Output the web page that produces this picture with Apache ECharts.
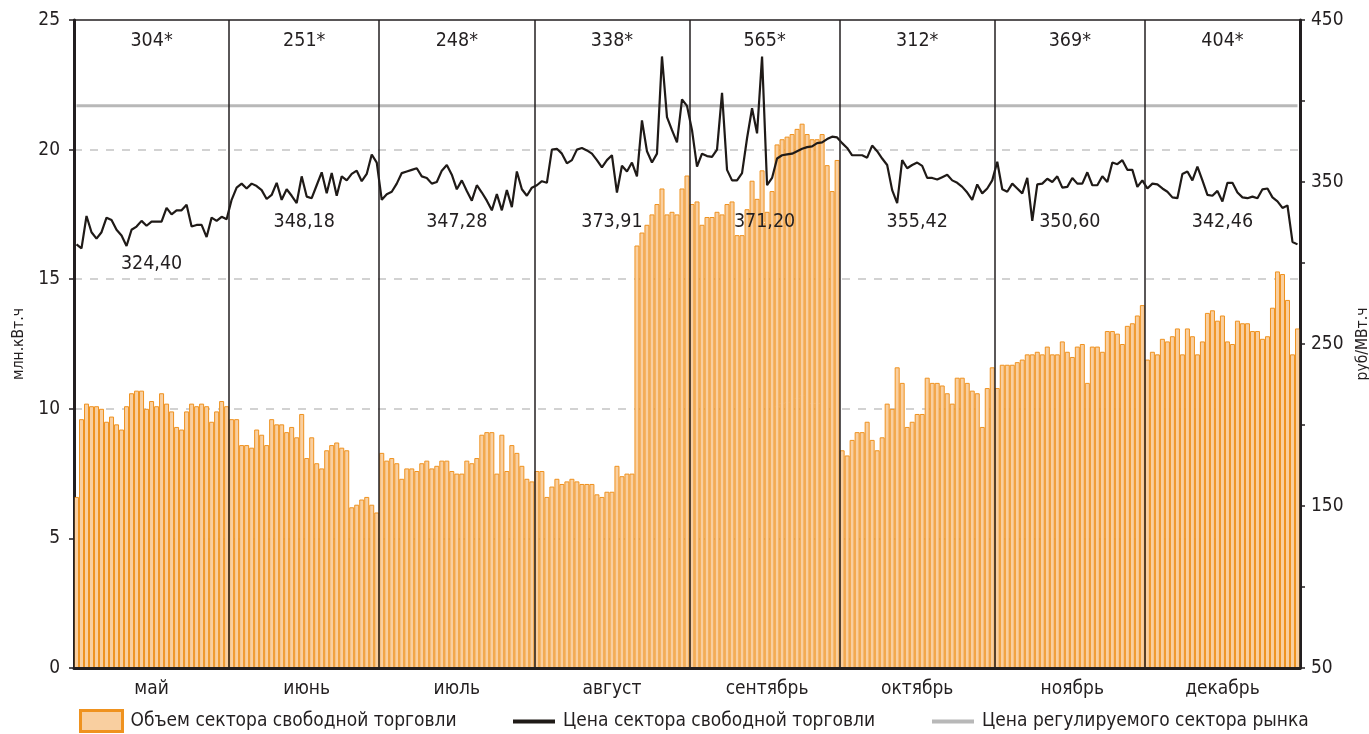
<!DOCTYPE html>
<html lang="ru">
<head>
<meta charset="utf-8">
<title>Сектор свободной торговли</title>
<script src="https://cdn.jsdelivr.net/npm/echarts@6/dist/echarts.min.js"></script>
<style>
  html, body { margin: 0; padding: 0; background: #fff; }
  #chart { width: 1369px; height: 734px; }
</style>
</head>
<body>
<div id="chart"></div>
<script>
// месяцы и число дней в них
const months = ['май', 'июнь', 'июль', 'август', 'сентябрь', 'октябрь', 'ноябрь', 'декабрь'];
const monthDays = [31, 30, 31, 31, 30, 31, 30, 31];

// подписи над месяцами
const monthNotes = ['304*', '251*', '248*', '338*', '565*', '312*', '369*', '404*'];
// средняя цена за месяц, руб/МВт.ч
const avgPrice = [324.40, 348.18, 347.28, 373.91, 371.20, 355.42, 350.60, 342.46];

// объем сектора свободной торговли по дням, млн.кВт.ч
const volume = [
  // май
  6.6, 9.6, 10.2, 10.1, 10.1, 10.0, 9.5, 9.7, 9.4, 9.2, 10.1, 10.6, 10.7, 10.7, 10.0, 10.3,
  10.1, 10.6, 10.2, 9.9, 9.3, 9.2, 9.9, 10.2, 10.1, 10.2, 10.1, 9.5, 9.9, 10.3, 10.1,
  // июнь
  9.6, 9.6, 8.6, 8.6, 8.5, 9.2, 9.0, 8.6, 9.6, 9.4, 9.4, 9.1, 9.3, 8.9, 9.8,
  8.1, 8.9, 7.9, 7.7, 8.4, 8.6, 8.7, 8.5, 8.4, 6.2, 6.3, 6.5, 6.6, 6.3, 6.0,
  // июль
  8.3, 8.0, 8.1, 7.9, 7.3, 7.7, 7.7, 7.6, 7.9, 8.0, 7.7, 7.8, 8.0, 8.0, 7.6, 7.5,
  7.5, 8.0, 7.9, 8.1, 9.0, 9.1, 9.1, 7.5, 9.0, 7.6, 8.6, 8.3, 7.8, 7.3, 7.2,
  // август
  7.6, 7.6, 6.6, 7.0, 7.3, 7.1, 7.2, 7.3, 7.2, 7.1, 7.1, 7.1, 6.7, 6.6, 6.8, 6.8,
  7.8, 7.4, 7.5, 7.5, 16.3, 16.8, 17.1, 17.5, 17.9, 18.5, 17.5, 17.6, 17.5, 18.5, 19.0,
  // сентябрь
  17.9, 18.0, 17.1, 17.4, 17.4, 17.6, 17.5, 17.9, 18.0, 16.7, 16.7, 17.7, 18.8, 18.1, 19.2,
  17.6, 18.4, 20.2, 20.4, 20.5, 20.6, 20.8, 21.0, 20.6, 20.4, 20.4, 20.6, 19.4, 18.4, 19.6,
  // октябрь
  8.4, 8.2, 8.8, 9.1, 9.1, 9.5, 8.8, 8.4, 8.9, 10.2, 10.0, 11.6, 11.0, 9.3, 9.5, 9.8,
  9.8, 11.2, 11.0, 11.0, 10.9, 10.6, 10.2, 11.2, 11.2, 11.0, 10.7, 10.6, 9.3, 10.8, 11.6,
  // ноябрь
  10.8, 11.7, 11.7, 11.7, 11.8, 11.9, 12.1, 12.1, 12.2, 12.1, 12.4, 12.1, 12.1, 12.6, 12.2,
  12.0, 12.4, 12.5, 11.0, 12.4, 12.4, 12.2, 13.0, 13.0, 12.9, 12.5, 13.2, 13.3, 13.6, 14.0,
  // декабрь
  11.9, 12.2, 12.1, 12.7, 12.6, 12.8, 13.1, 12.1, 13.1, 12.8, 12.1, 12.6, 13.7, 13.8, 13.4, 13.6,
  12.6, 12.5, 13.4, 13.3, 13.3, 13.0, 13.0, 12.7, 12.8, 13.9, 15.3, 15.2, 14.2, 12.1, 13.1
];

// цена сектора свободной торговли по дням, руб/МВт.ч
const price = [
  // май
  311.5, 309, 329, 319, 315, 319, 328, 326.5, 320.5, 317, 310.5, 320.5, 322.5, 326, 323, 325.5,
  325.5, 325.5, 334, 330, 332.5, 332.5, 336, 322.5, 323.5, 323.5, 316, 328, 326, 328.5, 327,
  // июнь
  339, 346.5, 349, 346, 349, 347.5, 345, 339.5, 342, 349.5, 339, 345.5, 341.5, 337, 353.5,
  341, 340, 348, 356, 343, 355.5, 341.5, 353.5, 351, 355, 357, 350.5, 355, 367, 362,
  // июль
  339, 342.5, 344, 349, 355.5, 356.5, 357.5, 358.5, 353.5, 352.5, 349, 350, 357, 360.5, 354.5, 345.5,
  351, 344.5, 338.5, 348, 343.5, 338.5, 332.5, 342.5, 332.5, 345, 334.5, 356.5, 345.5, 341.5, 346.5,
  // август
  348, 350.5, 349.5, 370, 370.5, 367.5, 361.5, 363.5, 370, 371, 369.5, 367.5, 363.5, 359, 363.5, 366.5,
  343.5, 360, 356.5, 362, 353.5, 388, 369, 362, 367.5, 427.5, 390, 382, 374.5, 401, 397,
  // сентябрь
  382, 359.5, 367.5, 366, 365.5, 370, 405, 357.5, 351, 351, 355.5, 377, 395.5, 380, 427.5,
  348, 352.5, 364.5, 366.5, 367, 367.5, 369, 370.5, 371.5, 372, 374, 374.5, 376.5, 378, 377.5,
  // октябрь
  374, 371, 366.5, 366.5, 366.5, 365, 372.5, 369, 364.5, 360.5, 345, 337, 363.5, 358.5, 360.5, 362,
  360, 352.5, 352.5, 351.5, 353, 354.5, 351, 349.5, 347, 343.5, 339, 348.5, 343, 346, 351,
  // ноябрь
  362.5, 345.5, 344, 349, 346, 343, 352.5, 326, 348.5, 349, 352, 350, 353.5, 346.5, 347,
  352.5, 349, 349, 356, 348, 348, 353.5, 350, 362, 361, 363.5, 357.5, 357.5, 347, 351,
  // декабрь
  346, 349, 348.5, 346, 344, 340.5, 340, 355, 356.5, 351, 359.5, 351, 342, 341.5, 344.5, 338,
  349.5, 349.5, 343.5, 340.5, 340, 341, 340, 345.5, 346, 340.5, 338, 334, 335.5, 313, 311.5
];

// цена регулируемого сектора: начало и конец периода
const regulated = [397, 397];

const FONT = "'DejaVu Sans Condensed', 'DejaVu Sans', sans-serif";
const INK = '#231f20';
const LINE_ICON = 'path://M0,0H40V4H0Z';

// дни как категории, начала и середины месяцев
const days = [];
const monthStart = [];
const midDay = {};
months.forEach((m, k) => {
  monthStart.push(days.length);
  midDay[days.length + Math.floor(monthDays[k] / 2)] = m;
  for (let d = 1; d <= monthDays[k]; d++) days.push(d + ' ' + m);
});
const isMonthStart = i => monthStart.indexOf(i) !== -1;

const chart = echarts.init(document.getElementById('chart'));

const legendBase = {
  top: 709, padding: 0,
  itemWidth: 42, itemHeight: 21,
  textStyle: { fontFamily: FONT, fontSize: 19, color: INK, padding: [0, 0, 0, 3] }
};

const noteLabel = {
  show: true, position: 'inside', opacity: 1,
  fontFamily: FONT, fontSize: 19.5, color: INK
};

const option = {
  animation: false,
  textStyle: { fontFamily: FONT, color: INK },
  grid: {
    left: 74, right: 69, top: 20, bottom: 66,
    outerBoundsMode: 'none', containLabel: false,
    show: true, borderColor: INK, borderWidth: 1.5
  },
  legend: [
    Object.assign({}, legendBase, {
      left: 79,
      data: [{ name: 'Объем сектора свободной торговли', icon: 'rect', itemStyle: { borderWidth: 3 } }]
    }),
    Object.assign({}, legendBase, {
      left: 513, top: 712,
      data: [{ name: 'Цена сектора свободной торговли', icon: LINE_ICON }]
    }),
    Object.assign({}, legendBase, {
      left: 932, top: 712,
      data: [{ name: 'Цена регулируемого сектора рынка', icon: LINE_ICON }]
    })
  ],
  xAxis: [
    {
      type: 'category',
      data: days,
      z: 5,
      axisLine: { lineStyle: { color: INK, width: 3 } },
      axisTick: { interval: isMonthStart, length: 8, lineStyle: { color: INK, width: 1.5 } },
      axisLabel: {
        interval: i => midDay[i] !== undefined,
        formatter: v => v.split(' ')[1],
        fontFamily: FONT, fontSize: 19, color: INK, margin: 12
      },
      splitLine: { show: true, interval: isMonthStart, lineStyle: { color: INK, width: 1.5 } }
    },
    { type: 'value', min: 0, max: days.length, show: false }
  ],
  yAxis: [
    {
      type: 'value', min: 0, max: 25, interval: 5,
      name: 'млн.кВт.ч', nameLocation: 'middle', nameRotate: 90, nameGap: 47,
      nameTextStyle: { fontFamily: FONT, fontSize: 15.5, color: INK },
      axisLine: { show: true, lineStyle: { color: INK, width: 3 } },
      axisTick: { show: true, length: 5, lineStyle: { color: INK, width: 1.5 } },
      axisLabel: { fontFamily: FONT, fontSize: 19, color: INK, margin: 14 },
      splitLine: {
        show: true, showMinLine: false, showMaxLine: false,
        lineStyle: { color: '#c4c4c4', width: 1.5, type: [8, 8] }
      }
    },
    {
      type: 'value', min: 50, max: 450, interval: 50, position: 'right',
      name: 'руб/МВт.ч', nameLocation: 'middle', nameRotate: 90, nameGap: 44,
      nameTextStyle: { fontFamily: FONT, fontSize: 15.5, color: INK },
      axisLine: { show: true, lineStyle: { color: INK, width: 3 } },
      axisTick: { show: true, length: 5, lineStyle: { color: INK, width: 1.5 } },
      axisLabel: {
        fontFamily: FONT, fontSize: 19, color: INK, margin: 11,
        formatter: v => ((v - 50) % 100 === 0 ? String(v) : '')
      },
      splitLine: { show: false }
    }
  ],
  series: [
    {
      name: 'Объем сектора свободной торговли',
      type: 'bar',
      data: volume,
      barCategoryGap: '0%',
      itemStyle: { color: '#f9cfa0', borderColor: '#ef921f', borderWidth: 1 }
    },
    {
      name: 'Цена сектора свободной торговли',
      type: 'line',
      yAxisIndex: 1,
      data: price,
      symbol: 'none',
      z: 4,
      itemStyle: { color: '#1f1a17' },
      lineStyle: { color: '#1f1a17', width: 2.2 }
    },
    {
      name: 'Цена регулируемого сектора рынка',
      type: 'line',
      yAxisIndex: 1,
      data: [[0, regulated[0]], [days.length - 1, regulated[1]]],
      symbol: 'none',
      z: 3,
      itemStyle: { color: '#b8b8b8' },
      lineStyle: { color: '#b8b8b8', width: 3 }
    },
    {
      // подписи над месяцами
      type: 'scatter',
      xAxisIndex: 1, yAxisIndex: 0,
      silent: true, symbolSize: 1, z: 6,
      itemStyle: { color: '#ffffff', opacity: 1 },
      data: monthNotes.map((t, k) => [monthStart[k] + monthDays[k] / 2, 24.2]),
      label: Object.assign({}, noteLabel, { formatter: p => monthNotes[p.dataIndex] })
    },
    {
      // средние цены месяца
      type: 'scatter',
      xAxisIndex: 1, yAxisIndex: 0,
      silent: true, symbolSize: 1, z: 6,
      itemStyle: { color: '#ffffff', opacity: 1 },
      data: avgPrice.map((v, k) => [monthStart[k] + monthDays[k] / 2, k === 0 ? 15.6 : 17.2]),
      label: Object.assign({}, noteLabel, {
        formatter: p => avgPrice[p.dataIndex].toFixed(2).replace('.', ',')
      })
    }
  ]
};

chart.setOption(option);
</script>
</body>
</html>
